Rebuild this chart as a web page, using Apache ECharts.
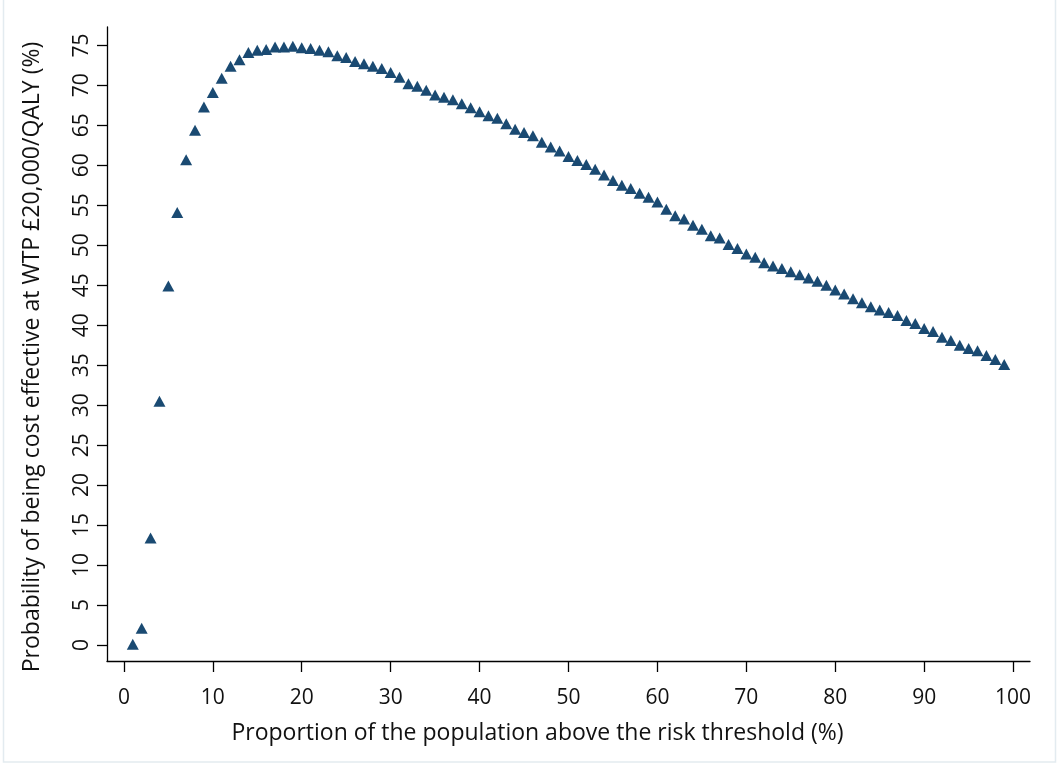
<!DOCTYPE html>
<html>
<head>
<meta charset="utf-8">
<script src="https://cdn.jsdelivr.net/npm/echarts@6/dist/echarts.min.js"></script>
<style>
html,body{margin:0;padding:0;background:#fff;}
#chart{width:1058px;height:767px;}
</style>
</head>
<body>
<div id="chart"></div>
<script>
// Proportion of the population above the risk threshold (%)
const proportions = [];
for (let i = 1; i <= 99; i++) proportions.push(i);
// Probability of being cost effective at WTP £20,000/QALY (%)
const probabilities = [
  0.1, 2.1, 13.4, 30.5, 44.9, 54.1, 60.7, 64.4, 67.3, 69.1,
  70.9, 72.4, 73.2, 74.1, 74.4, 74.5, 74.8, 74.8, 74.9, 74.7,
  74.6, 74.4, 74.2, 73.7, 73.5, 73.0, 72.7, 72.4, 72.1, 71.6,
  71.0, 70.2, 69.9, 69.4, 68.8, 68.5, 68.2, 67.7, 67.2, 66.7,
  66.2, 65.9, 65.2, 64.5, 64.1, 63.7, 62.9, 62.3, 61.8, 61.1,
  60.6, 60.1, 59.5, 58.8, 58.1, 57.5, 57.1, 56.5, 56.0, 55.4,
  54.5, 53.7, 53.3, 52.5, 52.0, 51.2, 50.9, 50.1, 49.6, 48.9,
  48.5, 47.8, 47.4, 47.1, 46.7, 46.3, 45.9, 45.5, 45.0, 44.4,
  43.9, 43.3, 42.8, 42.3, 41.9, 41.6, 41.2, 40.6, 40.2, 39.6,
  39.2, 38.5, 38.1, 37.5, 37.1, 36.8, 36.2, 35.7, 35.1
];
const xTicks = [0, 10, 20, 30, 40, 50, 60, 70, 80, 90, 100];
const yTicks = [0, 5, 10, 15, 20, 25, 30, 35, 40, 45, 50, 55, 60, 65, 70, 75];
const xTitle = 'Proportion of the population above the risk threshold (%)';
const yTitle = 'Probability of being cost effective at WTP £20,000/QALY (%)';

const points = proportions.map((p, i) => [p, probabilities[i]]);
const FONT = 'Open Sans';
const chart = echarts.init(document.getElementById('chart'), null, {renderer: 'canvas'});
chart.setOption({
  animation: false,
  backgroundColor: '#ffffff',
  graphic: [{
    type: 'rect', silent: true,
    shape: {x: 3.5, y: -3, width: 1052, height: 765},
    style: {fill: 'none', stroke: '#e3ebf0', lineWidth: 1.5}
  }],
  grid: {left: 107, right: 28, top: 27, bottom: 106, containLabel: false},
  xAxis: {
    type: 'value', min: -1.9, max: 101.9,
    name: xTitle, nameLocation: 'middle', nameGap: 61,
    nameTextStyle: {fontFamily: FONT, fontSize: 23, color: '#111', padding: [0, 62, 0, 0]},
    axisLine: {onZero: false, lineStyle: {color: '#000', width: 1.3}},
    axisTick: {show: true, length: 11, customValues: xTicks, lineStyle: {color: '#000', width: 1.3}},
    axisLabel: {customValues: xTicks, margin: 27, fontFamily: FONT, fontSize: 21, color: '#111'},
    splitLine: {show: false}
  },
  yAxis: {
    type: 'value', min: -2, max: 77.3,
    name: yTitle, nameLocation: 'middle', nameGap: 63,
    nameTextStyle: {fontFamily: FONT, fontSize: 23, color: '#111', padding: [0, 26, 0, 0]},
    axisLine: {onZero: false, lineStyle: {color: '#000', width: 1.3}},
    axisTick: {show: true, length: 10, customValues: yTicks, lineStyle: {color: '#000', width: 1.3}},
    axisLabel: {customValues: yTicks, rotate: 90, margin: 14, fontFamily: FONT, fontSize: 21, color: '#111'},
    splitLine: {show: false}
  },
  series: [{
    type: 'scatter',
    data: points,
    symbol: 'triangle',
    symbolSize: [12, 11],
    itemStyle: {color: '#1a4a72', opacity: 1}
  }]
});
</script>
</body>
</html>
